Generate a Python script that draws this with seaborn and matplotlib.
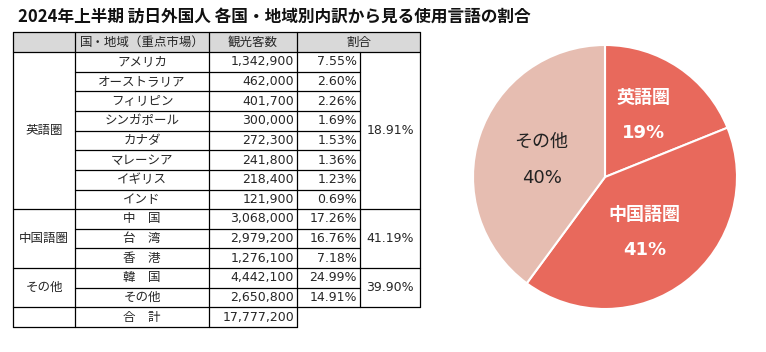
import seaborn as sns
import matplotlib.pyplot as plt

# table data
groups = ['英語圏', '中国語圏', 'その他']
group_sizes = [8, 3, 2]
group_shares = ['18.91%', '41.19%', '39.90%']
countries = ['アメリカ', 'オーストラリア', 'フィリピン', 'シンガポール', 'カナダ',
             'マレーシア', 'イギリス', 'インド',
             '中　国', '台　湾', '香　港',
             '韓　国', 'その他']
visitors = ['1,342,900', '462,000', '401,700', '300,000', '272,300',
            '241,800', '218,400', '121,900',
            '3,068,000', '2,979,200', '1,276,100',
            '4,442,100', '2,650,800']
shares = ['7.55%', '2.60%', '2.26%', '1.69%', '1.53%', '1.36%', '1.23%', '0.69%',
          '17.26%', '16.76%', '7.18%', '24.99%', '14.91%']
total_label = '合　計'
total_value = '17,777,200'
headers = ['国・地域（重点市場）', '観光客数', '割合']

# pie data
pie_labels = ['英語圏', '中国語圏', 'その他']
pie_values = [18.91, 41.19, 39.90]
pie_colors = ['#E8695C', '#E8695C', '#E6BDB1']
pie_text_colors = ['white', 'white', '#222222']
pie_weights = ['bold', 'bold', 'normal']

sns.set_theme(style='white')
plt.rcParams['font.family'] = ['Noto Sans CJK JP', 'DejaVu Sans']
num_font = ['DejaVu Sans', 'Noto Sans CJK JP']

W, H = 766, 352
fig = plt.figure(figsize=(W / 100, H / 100), dpi=100)
fig.patch.set_facecolor('white')

ax = fig.add_axes([0, 0, 1, 1])
ax.set_xlim(0, W)
ax.set_ylim(H, 0)
ax.axis('off')

ax.text(18, 17, '2024年上半期 訪日外国人 各国・地域別内訳から見る使用言語の割合',
        fontsize=12, fontweight='bold', va='center', ha='left', color='#111111')

cx = [13, 75, 209, 297, 360, 420]
top, hdr_bot = 32, 52
n = len(countries)
rh = (327 - hdr_bot) / (n + 1)
lw = 0.9
fs = 9
k = 'black'

def ry(i):
    return hdr_bot + i * rh

# header
ax.fill_between([cx[0], cx[5]], top, hdr_bot, color='#D9D9D9', lw=0)
ax.text((cx[1] + cx[2]) / 2, (top + hdr_bot) / 2, headers[0], ha='center', va='center', fontsize=fs)
ax.text((cx[2] + cx[3]) / 2, (top + hdr_bot) / 2, headers[1], ha='center', va='center', fontsize=fs)
ax.text((cx[3] + cx[5]) / 2, (top + hdr_bot) / 2, headers[2], ha='center', va='center', fontsize=fs)
ax.plot([cx[0], cx[5]], [top, top], color=k, lw=lw)
ax.plot([cx[0], cx[5]], [hdr_bot, hdr_bot], color=k, lw=lw)
for x in cx[:4]:
    ax.plot([x, x], [top, ry(n + 1)], color=k, lw=lw)
ax.plot([cx[5], cx[5]], [top, ry(n)], color=k, lw=lw)
ax.plot([cx[4], cx[4]], [hdr_bot, ry(n)], color=k, lw=lw)

# rows
for i in range(n):
    yc = ry(i) + rh / 2
    ax.text((cx[1] + cx[2]) / 2, yc, countries[i], ha='center', va='center', fontsize=fs)
    ax.text(cx[3] - 3, yc, visitors[i], ha='right', va='center', fontsize=fs, family=num_font)
    ax.text(cx[4] - 3, yc, shares[i], ha='right', va='center', fontsize=fs, family=num_font)
    ax.plot([cx[1], cx[4]], [ry(i + 1), ry(i + 1)], color=k, lw=lw)

# groups
start = 0
for g, size, gs in zip(groups, group_sizes, group_shares):
    end = start + size
    ymid = (ry(start) + ry(end)) / 2
    ax.text((cx[0] + cx[1]) / 2, ymid, g, ha='center', va='center', fontsize=fs)
    ax.text((cx[4] + cx[5]) / 2, ymid, gs, ha='center', va='center', fontsize=fs, family=num_font)
    ax.plot([cx[0], cx[1]], [ry(end), ry(end)], color=k, lw=lw)
    ax.plot([cx[4], cx[5]], [ry(end), ry(end)], color=k, lw=lw)
    start = end

# total row
yc = ry(n) + rh / 2
ax.text((cx[1] + cx[2]) / 2, yc, total_label, ha='center', va='center', fontsize=fs)
ax.text(cx[3] - 3, yc, total_value, ha='right', va='center', fontsize=fs, family=num_font)
ax.plot([cx[0], cx[3]], [ry(n + 1), ry(n + 1)], color=k, lw=lw)

# pie
pcx, pcy, r = 605, 177, 132
pax = fig.add_axes([(pcx - r) / W, (H - pcy - r) / H, 2 * r / W, 2 * r / H])
wedges, _ = pax.pie(pie_values, colors=pie_colors, startangle=90, counterclock=False,
                    wedgeprops=dict(edgecolor='white', linewidth=1.5))
pax.set_xlim(-1, 1)
pax.set_ylim(-1, 1)
pax.set_aspect('equal')

label_pos = [(0.29, 0.47), (0.30, -0.42), (-0.48, 0.13)]
for (x, y), lab, v, c, wgt in zip(label_pos, pie_labels, pie_values, pie_text_colors, pie_weights):
    pax.text(x, y + 0.135, lab, ha='center', va='center', fontsize=13, color=c, fontweight=wgt)
    pax.text(x, y - 0.135, f'{round(v)}%', ha='center', va='center', fontsize=13, color=c,
             fontweight=wgt, family=num_font)

fig.savefig('out.png', dpi=100)
